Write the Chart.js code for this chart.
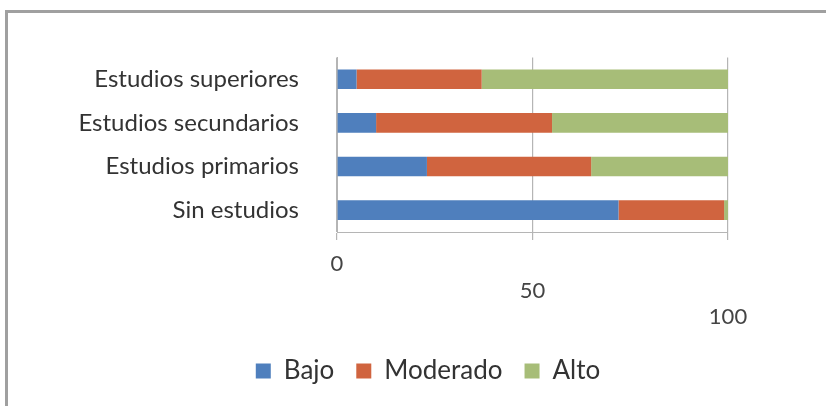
<!DOCTYPE html>
<html>
<head>
<meta charset="utf-8">
<script src="https://cdn.jsdelivr.net/npm/chart.js@4.4.1/dist/chart.umd.min.js"></script>
<style>
  html, body { margin: 0; padding: 0; background: #fff; }
  #frame {
    position: absolute; left: 5px; top: 10px;
    width: 818px; height: 393px;
    border-top: 3px solid #a0a0a0; border-left: 3px solid #a0a0a0;
  }
</style>
</head>
<body>
<div id="frame"><canvas id="chart" width="818" height="393"></canvas></div>
<script>
// Datos
const categories = ['Estudios superiores', 'Estudios secundarios', 'Estudios primarios', 'Sin estudios'];
const bajo = [5, 10, 23, 72];
const moderado = [32, 45, 42, 27];
const alto = [63, 45, 35, 1];
const xTicks = [0, 50, 100];

const FONT = "Lato, 'Open Sans', sans-serif";

new Chart(document.getElementById('chart'), {
    type: 'bar',
    data: {
        labels: categories,
        datasets: [
            { label: 'Bajo', data: bajo, backgroundColor: '#4f7fbd' },
            { label: 'Moderado', data: moderado, backgroundColor: '#d0643f' },
            { label: 'Alto', data: alto, backgroundColor: '#a7bd78' }
        ]
    },
    options: {
        indexAxis: 'y',
        responsive: false,
        animation: false,
        layout: { padding: { top: 28, right: 0, bottom: 12, left: 22 } },
        datasets: { bar: { barPercentage: 0.45, categoryPercentage: 1 } },
        scales: {
            x: {
                stacked: true,
                min: 0,
                max: 100,
                afterBuildTicks: (axis) => { axis.ticks = xTicks.map(v => ({ value: v })); },
                afterFit: (axis) => { axis.height = 104; },
                grid: { color: '#b5b5b5', lineWidth: 1.2, tickLength: 8 },
                border: { color: '#b5b5b5' },
                ticks: {
                    color: '#444',
                    padding: 11,
                    font: { family: FONT, size: 22, lineHeight: 1.2 },
                    callback: (v) => {
                        const i = xTicks.indexOf(v);
                        const lines = [];
                        for (let k = 0; k < i; k++) lines.push('');
                        lines.push(String(v));
                        return lines;
                    }
                }
            },
            y: {
                stacked: true,
                afterFit: (axis) => { axis.width = 307; },
                grid: { display: false },
                border: { color: '#b5b5b5' },
                ticks: {
                    color: '#333',
                    padding: 30,
                    font: { family: FONT, size: 24 }
                }
            },
            // espacio a la derecha del área de trazado
            yRight: {
                position: 'right',
                display: true,
                afterFit: (axis) => { axis.width = 98; },
                grid: { display: false },
                border: { display: false },
                ticks: { display: false }
            }
        },
        plugins: {
            legend: {
                position: 'bottom',
                labels: {
                    color: '#333',
                    boxWidth: 15,
                    boxHeight: 15,
                    padding: 22,
                    font: { family: FONT, size: 26 }
                }
            },
            tooltip: { enabled: false }
        }
    }
});
</script>
</body>
</html>
